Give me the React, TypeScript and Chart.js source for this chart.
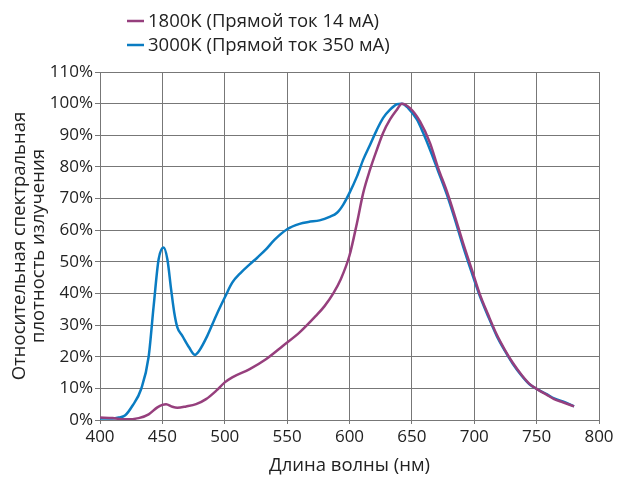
import React, { useEffect, useRef } from "react";
import { Chart, registerables } from "chart.js";

Chart.register(...registerables);

// Wavelength (nm) and relative spectral density (%) for each series
const warmWavelengths = [400, 410, 420, 431, 439, 446, 450, 453, 458, 462, 469, 477, 485, 493, 500, 506, 520, 533, 546.5, 560, 573, 580, 587, 593, 600, 606, 611, 616.5, 622, 627, 632.5, 638, 642, 648.5, 656.5, 664.5, 671, 678, 684.5, 691, 698, 704.5, 711, 718, 724.5, 731, 738, 744, 751, 758, 764, 771, 780];
const warmValues = [0.8, 0.6, 0.2, 0.6, 1.8, 4, 4.8, 5, 4.2, 3.9, 4.3, 5, 6.6, 9.2, 11.9, 13.5, 16.1, 19.2, 23.4, 27.7, 32.9, 36, 40, 44.5, 52, 62.3, 71.8, 79.2, 85.5, 90.8, 95, 98.1, 100, 98.6, 94.4, 87.6, 79.7, 72.3, 64.4, 56, 47.6, 39.7, 33.4, 27, 22.2, 18, 14.2, 11.5, 9.6, 8, 6.6, 5.6, 4.3];

const coolWavelengths = [400, 410, 415, 420, 426, 433, 439, 443, 447, 451, 454, 457, 459.5, 462, 466, 471.5, 476, 479.5, 486, 493, 500, 506, 513, 520, 526, 533, 540, 550, 560, 567, 576, 584, 590, 595, 600, 606, 611, 616.5, 622, 627, 632.5, 638, 642, 647, 654, 659, 664.5, 671, 678, 684.5, 691, 698, 704.5, 711, 718, 724.5, 731, 738, 744, 751, 758, 764, 771, 780];
const coolValues = [0.5, 0.5, 0.8, 1.4, 4.5, 9.8, 20, 36, 50.8, 54.5, 50.8, 41.3, 34, 29.3, 26.6, 22.9, 20.6, 21.9, 26.6, 32.9, 38.7, 43.4, 46.6, 49.2, 51.3, 53.9, 57, 60.3, 62, 62.6, 63.1, 64.2, 65.5, 68.1, 71.8, 77, 82.3, 87, 91.8, 95.5, 98.1, 99.8, 100, 98.6, 95, 90.8, 85.5, 78.7, 71.3, 63.4, 55, 46.6, 39.2, 32.9, 26.6, 21.9, 17.7, 14, 11.4, 9.6, 8.2, 6.8, 5.9, 4.3];

const seriesLabels = ["1800K (Прямой ток 14 мА)", "3000K (Прямой ток 350 мА)"];
const xTitle = "Длина волны (нм)";
const yTitle = ["Относительная спектральная", "плотность излучения"];

const FONT = '"Open Sans", sans-serif';
const TICK_SIZE = 17;
const TITLE_SIZE = 18.5;
const TEXT = "#222222";
const GRID = "#777777";
const COLORS = ["#963f7d", "#0a7cc2"];

const legendPlugin = {
  id: "stackedLegend",
  afterDraw(chart: any) {
    const ctx = chart.ctx;
    ctx.save();
    ctx.font = `${TITLE_SIZE}px ${FONT}`;
    ctx.textBaseline = "middle";
    ctx.textAlign = "left";
    chart.data.datasets.forEach((ds: any, i: number) => {
      const y = 21 + i * 24;
      ctx.strokeStyle = ds.borderColor;
      ctx.lineWidth = 2.5;
      ctx.beginPath();
      ctx.moveTo(127, y);
      ctx.lineTo(144, y);
      ctx.stroke();
      ctx.fillStyle = TEXT;
      ctx.fillText(ds.label, 148, y + 1);
    });
    ctx.restore();
  },
};

export default function App() {
  const ref = useRef<HTMLCanvasElement>(null);

  useEffect(() => {
    if (!ref.current) return;
    const toPoints = (xs: number[], ys: number[]) => xs.map((x, i) => ({ x, y: ys[i] }));
    const chart = new Chart(ref.current, {
      type: "line",
      data: {
        datasets: [
          {
            label: seriesLabels[0],
            data: toPoints(warmWavelengths, warmValues),
            borderColor: COLORS[0],
            backgroundColor: COLORS[0],
            borderWidth: 2.5,
            pointRadius: 0,
            cubicInterpolationMode: "monotone",
          },
          {
            label: seriesLabels[1],
            data: toPoints(coolWavelengths, coolValues),
            borderColor: COLORS[1],
            backgroundColor: COLORS[1],
            borderWidth: 2.5,
            pointRadius: 0,
            cubicInterpolationMode: "monotone",
          },
        ],
      },
      options: {
        animation: false,
        responsive: false,
        layout: { padding: { left: 0, right: 18, top: 72, bottom: 0 } },
        plugins: {
          legend: { display: false },
          tooltip: { enabled: false },
        },
        scales: {
          x: {
            type: "linear",
            min: 400,
            max: 800,
            ticks: {
              stepSize: 50,
              color: TEXT,
              font: { family: FONT, size: TICK_SIZE },
              padding: 3,
              maxRotation: 0,
            },
            grid: { color: GRID, tickLength: 4, lineWidth: 1 },
            border: { color: GRID },
            title: {
              display: true,
              text: xTitle,
              color: TEXT,
              font: { family: FONT, size: TITLE_SIZE },
              padding: { top: 0, bottom: 0 },
            },
            afterFit: (s: any) => {
              s.height = 57;
            },
          },
          y: {
            min: 0,
            max: 110,
            ticks: {
              stepSize: 10,
              color: TEXT,
              font: { family: FONT, size: TICK_SIZE },
              padding: 2,
              callback: (v: any) => v + "%",
            },
            grid: { color: GRID, tickLength: 5, lineWidth: 1 },
            border: { color: GRID },
            title: {
              display: true,
              text: yTitle,
              color: TEXT,
              font: { family: FONT, size: TITLE_SIZE, lineHeight: 1.05 },
              padding: { top: 10, bottom: 0 },
            },
            afterFit: (s: any) => {
              s.width = 100;
            },
          },
        },
      },
      plugins: [legendPlugin],
    });
    return () => chart.destroy();
  }, []);

  return (
    <div style={{ position: "absolute", left: 0, top: 0, width: 617, height: 477, background: "#fff" }}>
      <canvas ref={ref} width={617} height={477} />
    </div>
  );
}
